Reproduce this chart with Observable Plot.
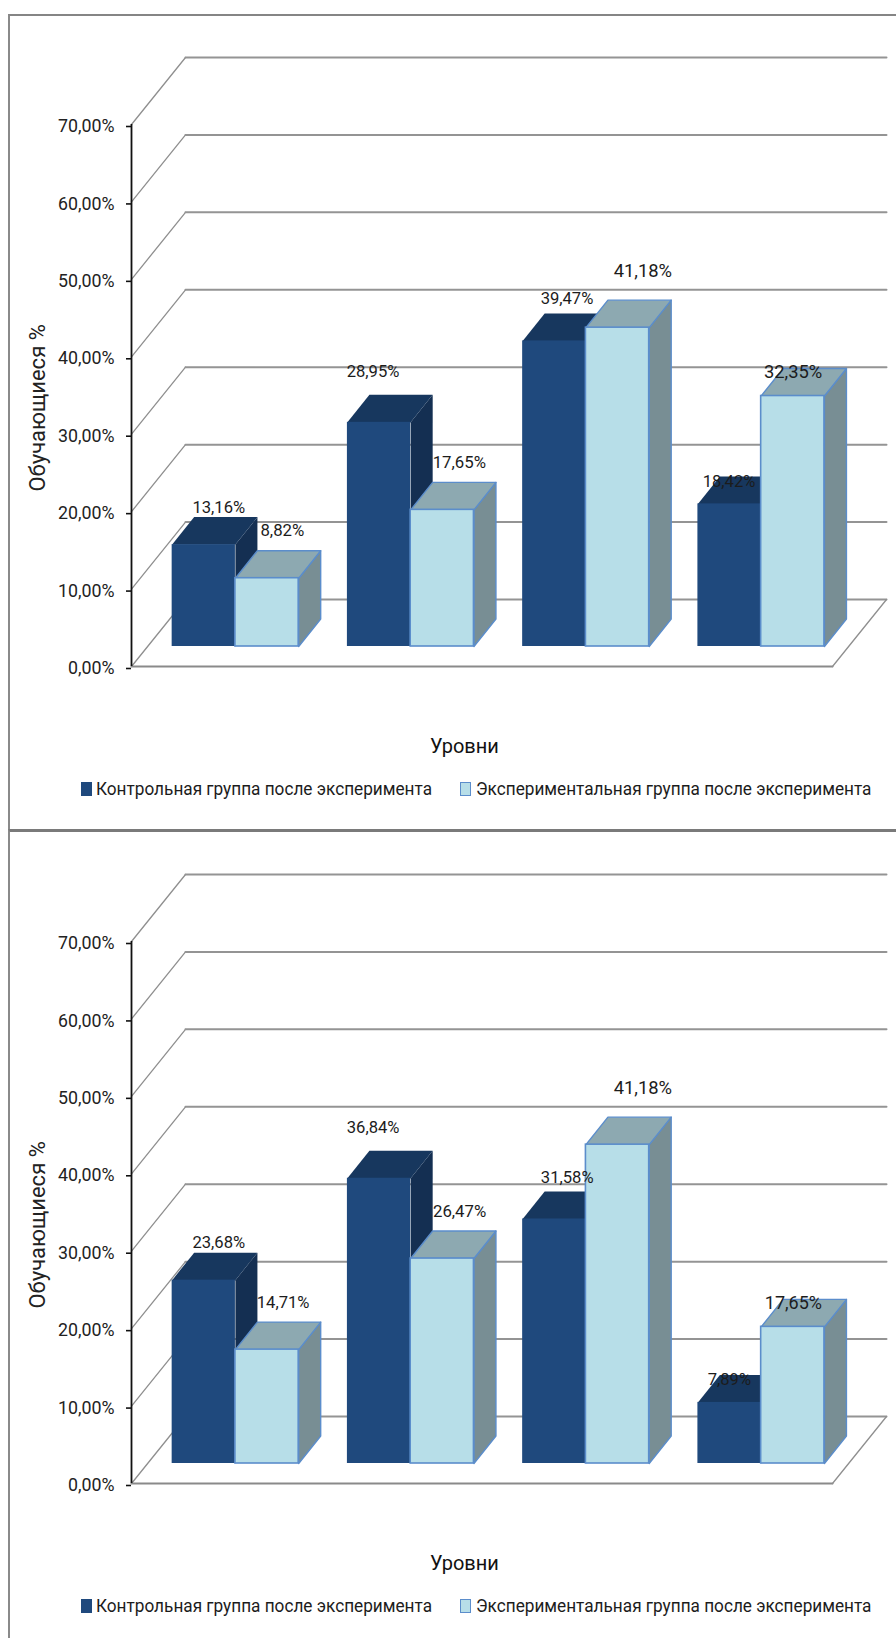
<!DOCTYPE html>
<html lang="ru">
<head>
<meta charset="utf-8">
<script src="https://cdn.jsdelivr.net/npm/d3@7"></script>
<script src="https://cdn.jsdelivr.net/npm/@observablehq/plot@0.6"></script>
<style>
  html, body { margin: 0; padding: 0; background: #fff; overflow: hidden; }
  #page { position: relative; width: 896px; height: 1638px; font-family: Roboto, sans-serif; }
  .panel { position: absolute; left: 8px; right: 0; box-sizing: border-box; border-left: 2px solid #8a8a8a; border-top: 2px solid #858585; }
  .panel.lower { border-top-width: 3px; border-top-color: #7a7a7a; }
  .chart { position: absolute; left: 0; }
  .chart svg { display: block; }
  .legend { position: absolute; left: 0; font-size: 18.2px; color: #1c1c1c; line-height: 20px; white-space: nowrap; }
  .legend span { position: absolute; top: 0; transform: scaleX(0.945); transform-origin: left center; }
  .legend i { position: absolute; top: 3px; width: 11px; height: 14px; box-sizing: border-box; }
</style>
</head>
<body>
<div id="page"></div>
<script>
// Доля обучающихся по уровням: контрольная и экспериментальная группы
const levels = [1, 2, 3, 4];
const controlA = [13.16, 28.95, 39.47, 18.42];
const experimentA = [8.82, 17.65, 41.18, 32.35];
const controlB = [23.68, 36.84, 31.58, 7.89];
const experimentB = [14.71, 26.47, 41.18, 17.65];
const yTicks = [0, 10, 20, 30, 40, 50, 60, 70];
const seriesNames = ["Контрольная группа после эксперимента", "Экспериментальная группа после эксперимента"];

// Пиксели на единицу шкал: x в долях категории, y в процентах
const xUnit = 175.25, yUnit = 7.743;
// Глубина стенки и столбца, смещение столбцов от передней кромки пола
const wallDx = 54 / xUnit, wallDy = 67 / yUnit;
const barDx = 22 / xUnit, barDy = 27.5 / yUnit;
const floorY = 20 / yUnit;
const barStart = 0.232, barWidth = 0.361;

// Подписи: сдвиг от верха столбца (пиксели) и размер шрифта
const notesA = {
  control: [[15, -37, 16.6], [-6, -51, 16.6], [12.7, -42, 16.6], [-0.5, -21.7, 16.6]],
  experiment: [[15.3, -47.7, 16.8], [17, -47.6, 16.8], [25.3, -56.4, 18.4], [0.3, -23.8, 18.4]]
};
const notesB = {
  control: [[15, -37.3, 16.6], [-5.9, -51, 16.6], [12.9, -41.2, 16.6], [-0.2, -22.6, 16.6]],
  experiment: [[16.1, -47.4, 16.6], [17.3, -47, 16.8], [25.3, -56.8, 18.4], [0.6, -24, 18]]
};

const palette = {
  dark: {front: "#1f497d", top: "#17375e", side: "#142f52"},
  light: {front: "#b7dee8", top: "#8da9b1", side: "#788e94", stroke: "#5b8dcb"}
};

const pct = v => d3.format(".2f")(v).replace(".", ",") + "%";

// Грань столбца: замкнутый многоугольник в единицах шкал
function faces(values, offset, tone) {
  const top = [], side = [];
  values.forEach((v, i) => {
    const x0 = i + offset, x1 = x0 + barWidth, y0 = floorY, y1 = floorY + v;
    top.push(
      {k: i, x: x0, y: y1}, {k: i, x: x1, y: y1},
      {k: i, x: x1 + barDx, y: y1 + barDy}, {k: i, x: x0 + barDx, y: y1 + barDy});
    side.push(
      {k: i, x: x1, y: y0}, {k: i, x: x1 + barDx, y: y0 + barDy},
      {k: i, x: x1 + barDx, y: y1 + barDy}, {k: i, x: x1, y: y1});
  });
  const stroke = tone.stroke || "none";
  return [
    Plot.line(side, {x: "x", y: "y", z: "k", curve: "linear-closed", fill: tone.side, stroke, strokeWidth: 1.4}),
    Plot.line(top, {x: "x", y: "y", z: "k", curve: "linear-closed", fill: tone.top, stroke, strokeWidth: 1.4}),
    Plot.rectY(values.map((v, i) => ({i, v})), {
      x1: d => d.i + offset, x2: d => d.i + offset + barWidth,
      y1: floorY, y2: d => floorY + d.v,
      fill: tone.front, stroke, strokeWidth: 1.6, inset: 0
    })
  ];
}

function labels(values, offset, nudges) {
  return Plot.text(values.map((v, i) => ({v, i})), {
    x: d => d.i + offset + barWidth / 2 + nudges[d.i][0] / xUnit,
    y: d => floorY + d.v - nudges[d.i][1] / yUnit,
    text: d => pct(d.v),
    fontSize: d => nudges[d.i][2],
    fill: "#1c1c1c",
    textAnchor: "middle"
  });
}

function chart(control, experiment, notes) {
  // Линии сетки: наклонный участок вглубь от оси и горизонталь на задней стенке
  const wallSlant = yTicks.flatMap(t => [{t, x: 0, y: t}, {t, x: wallDx, y: t + wallDy}]);
  const wallFlat = yTicks.flatMap(t => [{t, x: wallDx, y: t + wallDy}, {t, x: levels.length + wallDx, y: t + wallDy}]);
  const floorFront = [{x: 0, y: 0}, {x: levels.length, y: 0}];
  const floorRight = [{x: levels.length, y: 0}, {x: levels.length + wallDx, y: wallDy}];
  return Plot.plot({
    width: 896,
    height: 807,
    marginLeft: 131,
    style: {fontFamily: "Roboto, sans-serif", background: "transparent", overflow: "visible"},
    x: {domain: [0, levels.length], range: [131, 832], axis: null},
    y: {domain: [0, 70], range: [652, 110]},
    marks: [
      Plot.line(wallSlant, {x: "x", y: "y", z: "t", stroke: "#8f8f8f", strokeWidth: 1.3}),
      Plot.line(wallFlat, {x: "x", y: "y", z: "t", stroke: "#949494", strokeWidth: 2}),
      Plot.line(floorFront, {x: "x", y: "y", stroke: "#8a8a8a", strokeWidth: 2}),
      Plot.line(floorRight, {x: "x", y: "y", stroke: "#8f8f8f", strokeWidth: 1.3}),
      ...faces(control, barStart, palette.dark),
      ...faces(experiment, barStart + barWidth, palette.light),
      Plot.axisY({
        ticks: yTicks, tickSize: 5, tickPadding: 12, tickFormat: pct,
        anchor: "left", label: null, fontSize: 17.8, color: "#222", stroke: "#111", strokeWidth: 1.6, dy: 2
      }),
      Plot.ruleX([0], {y1: 0, y2: 70, stroke: "#111", strokeWidth: 1.8}),
      labels(control, barStart, notes.control),
      labels(experiment, barStart + barWidth, notes.experiment),
      Plot.text(["Обучающиеся %"], {
        x: -0.531, y: 33.4, rotate: -90, fontSize: 22, fill: "#222"
      }),
      Plot.text(["Уровни"], {
        x: levels.length / 2 - 0.1, y: -10.3, fontSize: 20, fill: "#111"
      })
    ]
  });
}

function panel(parent, top, height, chartTop, lower, control, experiment, notes) {
  const box = document.createElement("div");
  box.className = lower ? "panel lower" : "panel";
  box.style.top = top + "px";
  box.style.height = height + "px";
  parent.appendChild(box);

  const wrap = document.createElement("div");
  wrap.className = "chart";
  wrap.style.top = chartTop + "px";
  wrap.appendChild(chart(control, experiment, notes));
  parent.appendChild(wrap);

  const legend = document.createElement("div");
  legend.className = "legend";
  legend.style.top = (chartTop + 765) + "px";
  [[81, 96, palette.dark.front, "none"], [460, 476, palette.light.front, palette.light.stroke]].forEach(([swatchX, textX, fill, line], k) => {
    const swatch = document.createElement("i");
    swatch.style.left = swatchX + "px";
    swatch.style.background = fill;
    swatch.style.border = line === "none" ? "none" : "1.5px solid " + line;
    const name = document.createElement("span");
    name.style.left = textX + "px";
    name.textContent = seriesNames[k];
    legend.append(swatch, name);
  });
  parent.appendChild(legend);
}

const page = document.getElementById("page");
panel(page, 14, 816, 14, false, controlA, experimentA, notesA);
panel(page, 829, 809, 831, true, controlB, experimentB, notesB);
</script>
</body>
</html>
